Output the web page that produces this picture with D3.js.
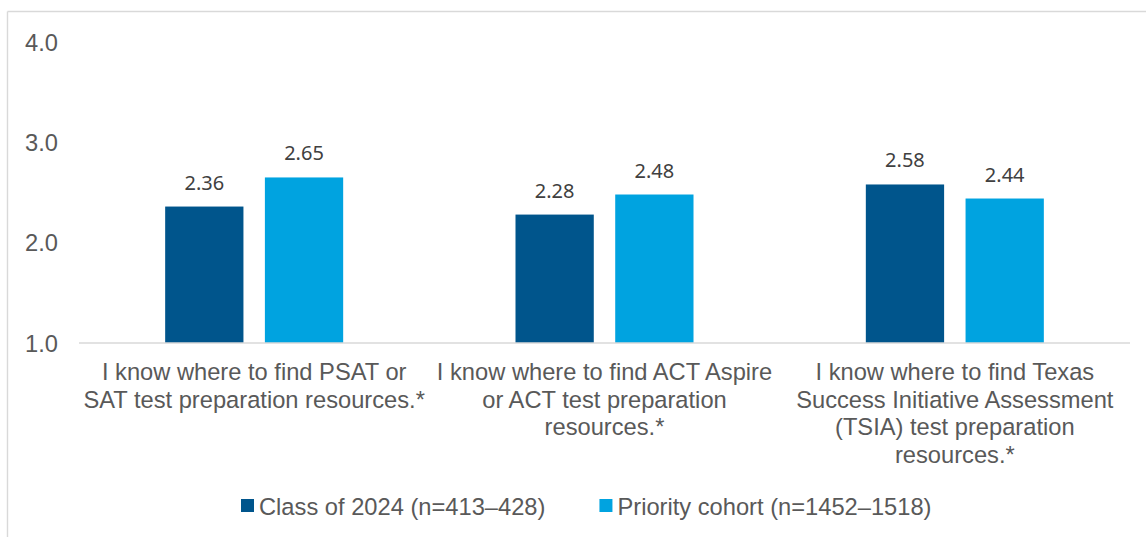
<!DOCTYPE html>
<html>
<head>
<meta charset="utf-8">
<script src="https://cdn.jsdelivr.net/npm/d3@7"></script>
<style>
  html, body { margin: 0; padding: 0; background: #fff; }
  svg { display: block; }
</style>
</head>
<body>
<div id="chart"></div>
<script>
// Chart data
const categories = ["psat", "act", "tsia"];
const categoryLines = [
  ["I know where to find PSAT or", "SAT test preparation resources.*"],
  ["I know where to find ACT Aspire", "or ACT test preparation", "resources.*"],
  ["I know where to find Texas", "Success Initiative Assessment", "(TSIA) test preparation", "resources.*"],
];
const seriesNames = ["Class of 2024 (n=413\u2013428)", "Priority cohort (n=1452\u20131518)"];
const class2024 = [2.36, 2.28, 2.58];
const priorityCohort = [2.65, 2.48, 2.44];
const yTicks = [1.0, 2.0, 3.0, 4.0];
const colors = ["#00558c", "#00a3e0"];

const width = 1146;
const height = 537;
const plot = { left: 79, right: 1130, top: 42, bottom: 343 };
const axisFont = "'Liberation Sans', Arial, sans-serif";
const labelFont = "'Noto Sans', 'Open Sans', sans-serif";

const svg = d3.select("#chart")
  .append("svg")
  .attr("width", width)
  .attr("height", height);

// Outer frame (top and left edges only are visible)
svg.append("line")
  .attr("x1", 7.5).attr("x2", width)
  .attr("y1", 11.5).attr("y2", 11.5)
  .attr("stroke", "#d9d9d9").attr("stroke-width", 1.4);
svg.append("line")
  .attr("x1", 7.5).attr("x2", 7.5)
  .attr("y1", 11.5).attr("y2", height)
  .attr("stroke", "#d9d9d9").attr("stroke-width", 1.4);

// Scales
const x0 = d3.scaleBand()
  .domain(categories)
  .range([plot.left, plot.right])
  .padding(0);

const x1 = d3.scaleBand()
  .domain([0, 1])
  .range([0, x0.bandwidth()])
  .paddingInner(0.215)
  .paddingOuter(0.864);

const y = d3.scaleLinear()
  .domain([1, 4])
  .range([plot.bottom, plot.top]);

// Y tick labels (no axis line, no gridlines)
svg.append("g")
  .selectAll("text")
  .data(yTicks)
  .enter()
  .append("text")
  .attr("x", 58)
  .attr("y", (d) => y(d) + 8.5)
  .attr("text-anchor", "end")
  .attr("font-family", axisFont)
  .attr("font-size", "23.7px")
  .attr("fill", "#595959")
  .text((d) => d.toFixed(1));

// Bars
const rows = categories.map((c, i) => ({
  cat: c,
  values: [class2024[i], priorityCohort[i]],
}));

const group = svg.append("g")
  .selectAll("g")
  .data(rows)
  .enter()
  .append("g")
  .attr("transform", (d) => `translate(${x0(d.cat)},0)`);

group.selectAll("rect")
  .data((d) => d.values.map((v, s) => ({ v, s })))
  .enter()
  .append("rect")
  .attr("x", (d) => x1(d.s))
  .attr("width", x1.bandwidth())
  .attr("y", (d) => y(d.v))
  .attr("height", (d) => y(1) - y(d.v))
  .attr("fill", (d) => colors[d.s]);

// Value labels
group.selectAll("text.value")
  .data((d) => d.values.map((v, s) => ({ v, s })))
  .enter()
  .append("text")
  .attr("class", "value")
  .attr("x", (d) => x1(d.s) + x1.bandwidth() / 2)
  .attr("y", (d) => y(d.v) - 17)
  .attr("text-anchor", "middle")
  .attr("font-family", labelFont)
  .attr("font-size", "20px")
  .attr("fill", "#404040")
  .text((d) => d.v.toFixed(2));

// Baseline at 1.0
svg.append("line")
  .attr("x1", plot.left).attr("x2", plot.right)
  .attr("y1", y(1)).attr("y2", y(1))
  .attr("stroke", "#d9d9d9").attr("stroke-width", 1.4);

// Category labels
const catLabel = svg.append("g")
  .selectAll("text")
  .data(categories)
  .enter()
  .append("text")
  .attr("x", (d) => x0(d) + x0.bandwidth() / 2)
  .attr("y", 380)
  .attr("text-anchor", "middle")
  .attr("font-family", axisFont)
  .attr("font-size", "23.7px")
  .attr("fill", "#595959");

catLabel.selectAll("tspan")
  .data((d, i) => categoryLines[i])
  .enter()
  .append("tspan")
  .attr("x", function () { return d3.select(this.parentNode).attr("x"); })
  .attr("dy", (d, i) => (i === 0 ? 0 : 27.6))
  .text((d) => d);

// Legend
const legend = svg.append("g").attr("transform", "translate(241,499)");
let lx = 0;
seriesNames.forEach((name, i) => {
  const item = legend.append("g").attr("transform", `translate(${lx},0)`);
  item.append("rect")
    .attr("width", 13)
    .attr("height", 13)
    .attr("fill", colors[i]);
  const t = item.append("text")
    .attr("x", 18)
    .attr("y", 16)
    .attr("font-family", axisFont)
    .attr("font-size", "23.7px")
    .attr("fill", "#595959")
    .text(name);
  lx += 18 + t.node().getComputedTextLength() + 54;
});
</script>
</body>
</html>
